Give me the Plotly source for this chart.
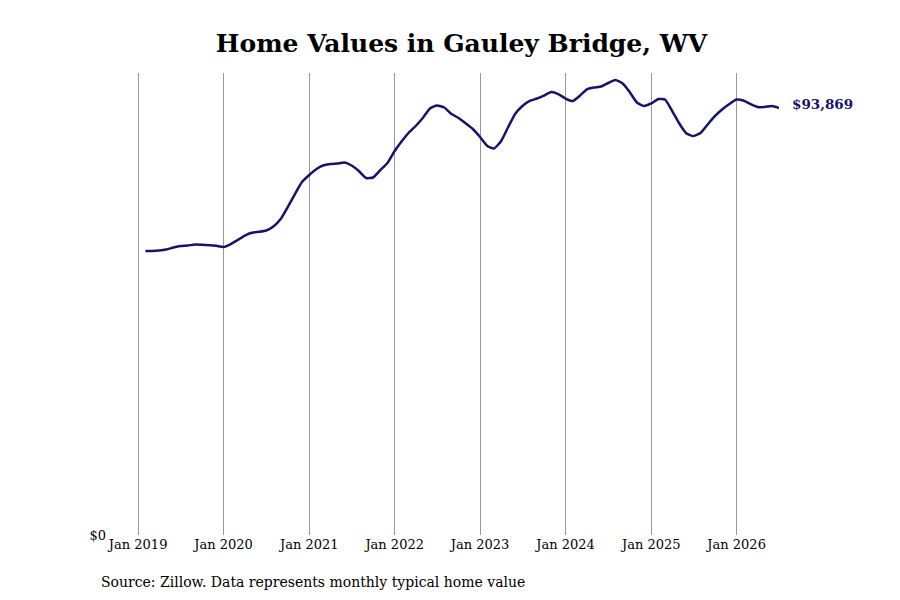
import pandas as pd
import plotly.graph_objects as go

# Monthly typical home value, Feb 2019 - Jul 2026
start_month = "2019-02-01"
end_month = "2026-07-01"
home_values = [
    62420, 62420, 62530, 62750, 63190, 63520, 63630, 63850, 63790, 63680, 63570,
    63300, 63960, 64840, 65830, 66450, 66650, 66930, 67810, 69460, 72090, 74950, 77590,
    79130, 80450, 81220, 81550, 81660, 81880, 81220, 80010, 78470, 78580, 80230, 81770,
    84400, 86600, 88360, 89900, 91660, 93750, 94410, 93970, 92540, 91660, 90450, 89240,
    87480, 85500, 84950, 86600, 89680, 92650, 94300, 95400, 95940, 96600, 97370, 96930,
    95940, 95400, 96490, 97960, 98360, 98580, 99350, 100010, 99240, 97370, 95060, 94300,
    94850, 95830, 95720, 93190, 90450, 88250, 87700, 88430, 90340, 92100, 93570, 94740,
    95720, 95460, 94740, 94080, 94080, 94300, 93869,
]
months = pd.date_range(start_month, end_month, freq="MS")

tick_dates = [f"{y}-01-01" for y in range(2019, 2027)]
tick_labels = [f"Jan {y}" for y in range(2019, 2027)]

title_text = "Home Values in Gauley Bridge, WV"
source_text = "Source: Zillow. Data represents monthly typical home value"
line_color = "#15146b"
font_family = "DejaVu Serif"

# page puts the figure 8px in from the top-left corner, so margins allow for that
m_l, m_r, m_t, m_b = 99, 129, 65, 73
plot_w = 900 - m_l - m_r
plot_h = 600 - m_t - m_b

fig = go.Figure()

fig.add_trace(go.Scatter(
    x=months,
    y=home_values,
    mode="lines",
    line=dict(color=line_color, width=2.5, shape="spline", smoothing=0.5),
    hoverinfo="x+y",
    showlegend=False,
))

# end-of-line value label
fig.add_annotation(
    x=months[-1], y=home_values[-1],
    text=f"<b>${home_values[-1]:,}</b>",
    showarrow=False, xanchor="left", xshift=11, yshift=4,
    font=dict(family=font_family, size=13.5, color=line_color),
)

# source note
fig.add_annotation(
    x=(91 - m_l) / plot_w, xanchor="left",
    y=-(574 - (600 - m_b)) / plot_h, yanchor="middle",
    xref="paper", yref="paper",
    text=source_text, showarrow=False,
    font=dict(family=font_family, size=14, color="black"),
)

fig.update_layout(
    width=900, height=600,
    margin=dict(l=m_l, r=m_r, t=m_t, b=m_b),
    paper_bgcolor="white",
    plot_bgcolor="white",
    font=dict(family=font_family, size=13, color="black"),
    title=dict(
        text=f"<b>{title_text}</b>",
        x=(453.5 - m_l) / plot_w, xref="paper", xanchor="center",
        y=1 - 35 / 600, yref="container", yanchor="middle",
        font=dict(family=font_family, size=25, color="black"),
    ),
    xaxis=dict(
        range=["2018-08-21", end_month],
        tickvals=tick_dates,
        ticktext=tick_labels,
        showgrid=True, gridcolor="#999999", gridwidth=1,
        showline=False, zeroline=False, ticks="",
        tickfont=dict(family=font_family, size=13),
    ),
    yaxis=dict(
        range=[0, 101550],
        tickvals=[0], ticktext=["$0"],
        showgrid=False, zeroline=False, showline=False, ticks="",
        tickfont=dict(family=font_family, size=13),
    ),
)

fig.write_html("out.html")
